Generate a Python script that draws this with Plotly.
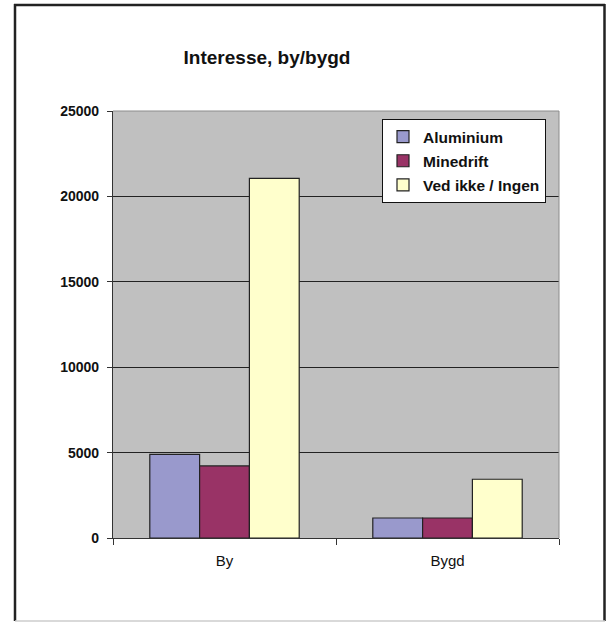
import plotly.graph_objects as go

categories = ["By", "Bygd"]
series_names = ["Aluminium", "Minedrift", "Ved ikke / Ingen"]
aluminium = [4900, 1170]
minedrift = [4220, 1170]
ved_ikke = [21050, 3440]
y_ticks = [0, 5000, 10000, 15000, 20000, 25000]

colors = ["#9999CC", "#993366", "#FFFFCC"]
values = [aluminium, minedrift, ved_ikke]

FONT = "Liberation Sans, Arial"

fig = go.Figure()
for i, (name, vals, col) in enumerate(zip(series_names, values, colors)):
    fig.add_trace(go.Bar(
        x=categories, y=vals, name=f"<b>{name}</b>", legendgroup=f"g{i}",
        marker=dict(color=col, line=dict(color="#222222", width=1.2)),
    ))

W, H = 606, 622
L, R, T, B = 113, 47, 111, 84
pw, ph = W - L - R, H - T - B

def px(x):
    return (x - L) / pw

def py(y):
    return (H - B - y) / ph

shapes = [
    dict(type="line", xref="paper", yref="paper", x0=px(15), x1=px(15), y0=py(4), y1=py(621),
         line=dict(color="#222222", width=2.5)),
    dict(type="line", xref="paper", yref="paper", x0=px(14), x1=px(605), y0=py(5), y1=py(5),
         line=dict(color="#222222", width=2.5)),
    dict(type="line", xref="paper", yref="paper", x0=px(604.5), x1=px(604.5), y0=py(4), y1=py(621),
         line=dict(color="#222222", width=2.5)),
    dict(type="line", xref="paper", yref="paper", x0=px(15), x1=px(605), y0=py(621), y1=py(621),
         line=dict(color="#CCCCCC", width=1.5)),
    dict(type="line", xref="paper", yref="paper", x0=0, x1=1, y0=1, y1=1,
         line=dict(color="#8C8C8C", width=1)),
    dict(type="line", xref="paper", yref="paper", x0=1, x1=1, y0=0, y1=1,
         line=dict(color="#8C8C8C", width=1)),
]

fig.update_layout(
    width=W, height=H,
    margin=dict(l=L, r=R, t=T, b=B),
    paper_bgcolor="white",
    plot_bgcolor="#C0C0C0",
    barmode="group",
    bargap=0.33,
    bargroupgap=0,
    title=dict(text="<b>Interesse, by/bygd</b>", x=267 / W, xanchor="center",
               y=1 - 57 / H, yanchor="middle",
               font=dict(family=FONT, size=19, color="#111111")),
    font=dict(family=FONT, size=12, color="#111111"),
    legend=dict(
        x=px(546), y=py(119), xanchor="right", yanchor="top",
        bgcolor="white", bordercolor="#111111", borderwidth=1,
        font=dict(family=FONT, size=15.5, color="#111111"),
        traceorder="grouped", tracegroupgap=1,
        itemwidth=30,
    ),
    showlegend=True,
    shapes=shapes,
)

fig.update_xaxes(
    type="category",
    showgrid=False, showline=True, linecolor="#333333", linewidth=1.2,
    ticks="outside", tickson="boundaries", ticklen=6, tickcolor="#333333",
    tickfont=dict(family=FONT, size=15, color="#111111"),
    ticklabelstandoff=9,
)
fig.update_yaxes(
    range=[0, 25000], tickvals=y_ticks, ticktext=[f"<b>{v}</b>" for v in y_ticks],
    showgrid=True, gridcolor="#222222", gridwidth=1,
    showline=True, linecolor="#333333", linewidth=1.2,
    ticks="outside", ticklen=5, tickcolor="#333333",
    tickfont=dict(family=FONT, size=14, color="#111111"),
    ticklabelstandoff=5,
    zeroline=False,
)

fig.write_html(
    "out.html",
    config={"displayModeBar": False},
    post_script="document.body.style.margin='0';document.body.style.overflow='hidden';",
)
